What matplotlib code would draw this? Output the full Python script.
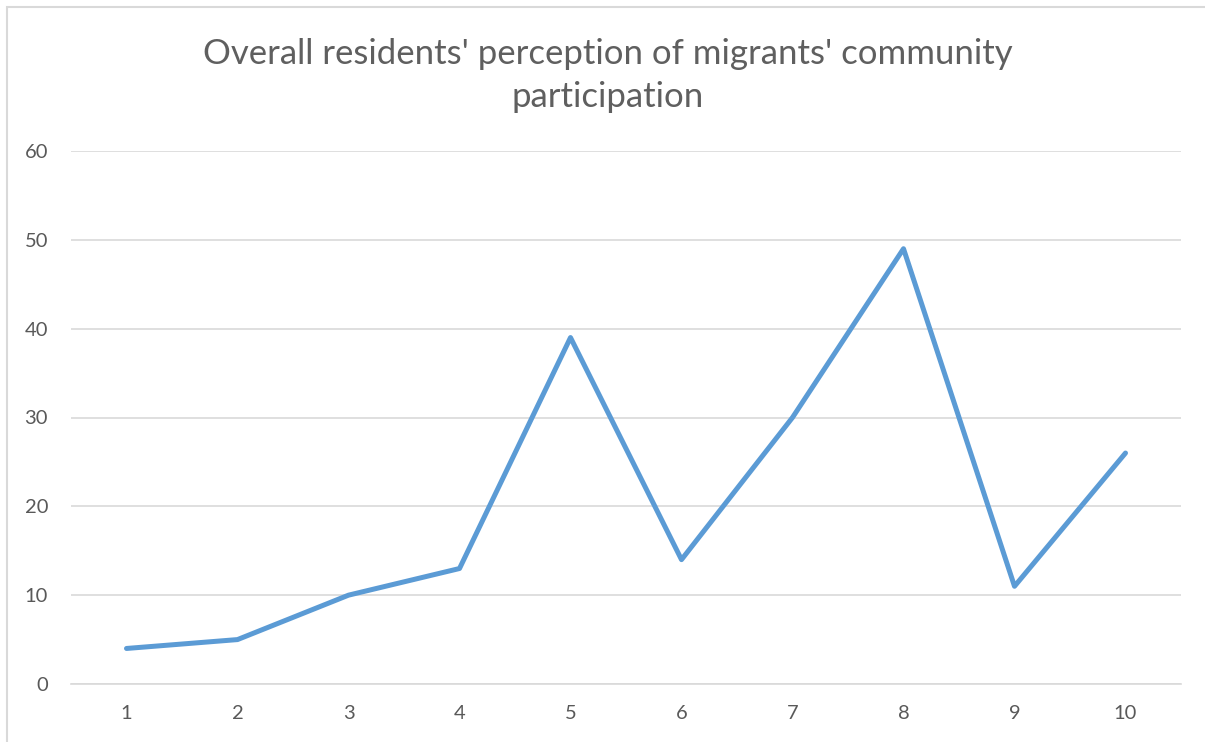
import matplotlib.pyplot as plt
from matplotlib.patches import Rectangle

# values
categories = ["1", "2", "3", "4", "5", "6", "7", "8", "9", "10"]
values = [4, 5, 10, 13, 39, 14, 30, 49, 11, 26]
y_ticks = [0, 10, 20, 30, 40, 50, 60]
title_lines = ["Overall residents' perception of migrants' community", "participation"]

plt.rcParams['font.family'] = ['Lato', 'DejaVu Sans']

W, H = 1205, 742
fig = plt.figure(figsize=(W / 100, H / 100), dpi=100)

# chart border (cropped on right and bottom)
fig.patches.append(Rectangle((7 / W, -0.1), 1.2, 1 - 7 / H + 0.1, transform=fig.transFigure,
                             fill=False, edgecolor="#D9D9D9", linewidth=1.5))

ax = fig.add_axes([71 / W, 1 - 684 / H, (1181 - 71) / W, (684 - 151) / H])

x = list(range(len(categories)))
ax.plot(x, values, color="#5B9BD5", linewidth=3.6, solid_capstyle="round", solid_joinstyle="round")

ax.set_xlim(-0.5, len(categories) - 0.5)
ax.set_ylim(0, 60)
ax.set_xticks(x)
ax.set_xticklabels(categories)
ax.set_yticks(y_ticks)

ax.grid(axis="y", color="#D9D9D9", linewidth=1.2)
ax.set_axisbelow(True)
for s in ["top", "right", "left"]:
    ax.spines[s].set_visible(False)
ax.spines["bottom"].set_color("#D9D9D9")
ax.spines["bottom"].set_linewidth(1.2)
ax.tick_params(length=0, labelsize=14.5, colors="#595959")
ax.tick_params(axis="x", pad=15)
ax.tick_params(axis="y", pad=16.5)

# two-line title, baselines placed separately
for line, yb in zip(title_lines, [64, 107]):
    fig.text(608 / W, 1 - yb / H, line, ha="center", va="baseline",
             fontsize=25, color="#5F5F5F")

fig.savefig("out.png", dpi=100)
